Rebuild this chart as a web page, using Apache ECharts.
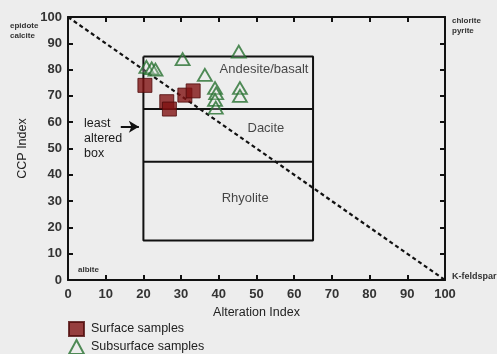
<!DOCTYPE html>
<html>
<head>
<meta charset="utf-8">
<script src="https://cdn.jsdelivr.net/npm/echarts@6/dist/echarts.min.js"></script>
<style>
html,body{margin:0;padding:0;background:#ededed;}
#chart{width:497px;height:354px;}
</style>
</head>
<body>
<div id="chart"></div>
<script>
// Data
var xTicks = [0,10,20,30,40,50,60,70,80,90,100];
var yTicks = [0,10,20,30,40,50,60,70,80,90,100];
var surfaceSamples = [[20.4,74],[26.2,67.8],[26.9,65],[31,70.3],[33.2,71.9]];
var subsurfaceSamples = [[20.8,81],[22.2,80.5],[23.2,80],[30.4,84],[36.3,78],[39,73],[39.3,71],[39,68.5],[39.2,65.5],[45.3,86.8],[45.6,73],[45.6,70]];
var diagonal = [[0,100],[100,0]];
var boxOutline = [[20,85],[65,85],[65,15],[20,15],[20,85]];
var boxDivider1 = [[20,65],[65,65]];
var boxDivider2 = [[20,45],[65,45]];
var regionLabels = [
  {name:'Andesite/basalt', value:[52,80]},
  {name:'Dacite', value:[52.5,57.5]},
  {name:'Rhyolite', value:[47,31]}
];
var arrowLine = [[14,58.3],[18.8,58.3]];
var legendNames = ['Surface samples','Subsurface samples'];

var blk = '#111';
var chart = echarts.init(document.getElementById('chart'));
var fontFam = 'Liberation Sans, Arial, sans-serif';

function lineSeries(d, dashed){
  return {type:'line', data:d, symbol:'none', silent:true, z:2,
    lineStyle:{color:blk, width: dashed?2.2:2, type: dashed?[4,3]:'solid'}};
}
function legendFor(name, top){
  return {orient:'vertical', left:68, top:top, padding:0, itemWidth:15, itemHeight:14,
    data:[name], selectedMode:false,
    textStyle:{color:'#222', fontSize:12.5, fontFamily:fontFam, padding:[0,0,0,2]}};
}
var axLine = {show:true, onZero:false, lineStyle:{color:blk, width:2}};
var axTick = {show:true, inside:true, length:5, lineStyle:{color:blk, width:2}};

chart.setOption({
  backgroundColor:'#ededed',
  animation:false,
  grid:{left:68, right:52, top:17, bottom:74},
  xAxis:[{
    type:'value', min:0, max:100, interval:10,
    name:'Alteration Index', nameLocation:'middle', nameGap:24,
    nameTextStyle:{color:'#222', fontSize:12.5, fontFamily:fontFam},
    axisLine:axLine, axisTick:axTick,
    axisLabel:{color:'#333', fontSize:13, fontWeight:'bold', fontFamily:fontFam, margin:8},
    splitLine:{show:false}
  },{
    type:'value', position:'top', min:0, max:100, interval:10,
    axisLine:axLine, axisTick:axTick,
    axisLabel:{show:false}, splitLine:{show:false}
  }],
  yAxis:[{
    type:'value', min:0, max:100, interval:10,
    name:'CCP Index', nameLocation:'middle', nameGap:33,
    nameTextStyle:{color:'#222', fontSize:12.5, fontFamily:fontFam},
    axisLine:axLine, axisTick:axTick,
    axisLabel:{color:'#333', fontSize:13, fontWeight:'bold', fontFamily:fontFam, margin:6},
    splitLine:{show:false}
  },{
    type:'value', position:'right', min:0, max:100, interval:10,
    axisLine:axLine, axisTick:axTick,
    axisLabel:{show:false}, splitLine:{show:false}
  }],
  legend:[legendFor(legendNames[0], 321), legendFor(legendNames[1], 339)],
  series:[
    lineSeries(diagonal, true),
    lineSeries(boxOutline, false),
    lineSeries(boxDivider1, false),
    lineSeries(boxDivider2, false),
    {type:'line', data:[], silent:true,
      markLine:{silent:true, symbol:['none','arrow'], symbolSize:[9,10],
        label:{show:false},
        lineStyle:{color:blk, width:2, type:'solid'},
        data:[[{coord:arrowLine[0]},{coord:arrowLine[1]}]]}},
    {type:'scatter', data:regionLabels, symbolSize:1, silent:true,
      itemStyle:{color:'rgba(0,0,0,0)'},
      label:{show:true, position:'inside', formatter:function(p){return p.name;},
        color:'#1a1a1a', fontSize:13, fontFamily:fontFam}},
    {name:legendNames[0], type:'scatter', data:surfaceSamples, symbol:'rect', symbolSize:14, z:5,
      itemStyle:{color:'#801212', borderColor:'#4d0a0a', borderWidth:1}},
    {name:legendNames[1], type:'scatter', data:subsurfaceSamples, symbol:'triangle', symbolSize:[14,12], z:6,
      itemStyle:{color:'rgba(237,237,237,0.3)', borderColor:'#27702f', borderWidth:1.8}}
  ],
  graphic:[
    {type:'text', left:84, top:116, style:{text:'least\naltered\nbox', fill:'#1a1a1a', font:'12.5px '+fontFam, lineHeight:15}},
    {type:'text', left:10, top:21, style:{text:'epidote\ncalcite', fill:'#333', font:'bold 8px '+fontFam, lineHeight:10}},
    {type:'text', left:452, top:16, style:{text:'chlorite\npyrite', fill:'#333', font:'bold 8px '+fontFam, lineHeight:10}},
    {type:'text', left:78, top:266, style:{text:'albite', fill:'#333', font:'bold 8px '+fontFam}},
    {type:'text', left:452, top:272, style:{text:'K-feldspar', fill:'#333', font:'bold 9px '+fontFam}}
  ]
});
</script>
</body>
</html>
